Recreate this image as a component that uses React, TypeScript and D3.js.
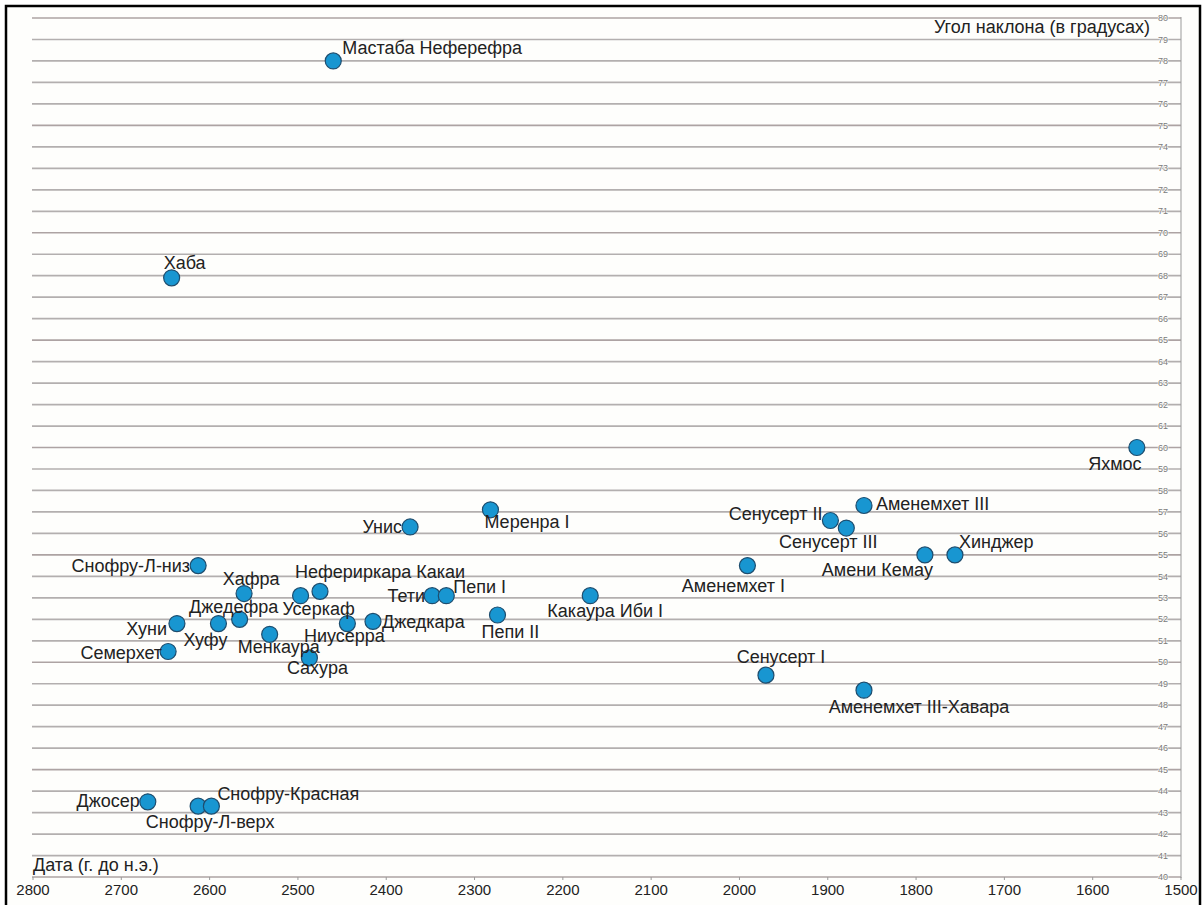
import React from "react";
import * as d3 from "d3";

// Data: pyramid names, dates (years BC) and slope angles (degrees)
const names = [
  "Мастаба Неферефра", "Хаба", "Яхмос", "Меренра I", "Унис", "Аменемхет III",
  "Сенусерт II", "Сенусерт III", "Амени Кемау", "Хинджер", "Аменемхет I",
  "Снофру-Л-низ", "Какаура Иби I", "Хафра", "Нефериркара Какаи", "Усеркаф",
  "Тети", "Пепи I", "Пепи II", "Ниусерра", "Джедкара", "Менкаура", "Сахура",
  "Хуни", "Хуфу", "Джедефра", "Семерхет", "Сенусерт I", "Аменемхет III-Хавара",
  "Джосер", "Снофру-Л-верх", "Снофру-Красная",
];
const years = [
  2460, 2643, 1550, 2282, 2373, 1859,
  1897, 1879, 1790, 1756, 1991,
  2613, 2169, 2561, 2475, 2497,
  2348, 2332, 2274, 2444, 2415, 2532, 2487,
  2637, 2590, 2566, 2647, 1970, 1859,
  2670, 2613, 2598,
];
const angles = [
  78.0, 67.9, 60.0, 57.1, 56.3, 57.3,
  56.6, 56.25, 55.0, 55.0, 54.5,
  54.5, 53.1, 53.2, 53.3, 53.1,
  53.1, 53.1, 52.2, 51.8, 51.9, 51.3, 50.2,
  51.8, 51.8, 52.0, 50.5, 49.4, 48.7,
  43.5, 43.3, 43.3,
];
const xTicks = [2800, 2700, 2600, 2500, 2400, 2300, 2200, 2100, 2000, 1900, 1800, 1700, 1600, 1500];
const yTickValues = d3.range(40, 81, 1);
const yTitle = "Угол наклона (в градусах)";
const xTitle = "Дата (г. до н.э.)";

// Label placement (presentation only): [dx, dy, anchor]
const labelPlacement: Record<string, [number, number, string]> = {
  "Мастаба Неферефра": [9, -13, "start"],
  "Хаба": [-8, -15, "start"],
  "Яхмос": [-22, 16, "middle"],
  "Меренра I": [-6, 12, "start"],
  "Унис": [-8, 0, "end"],
  "Аменемхет III": [12, -2, "start"],
  "Сенусерт II": [-8, -7, "end"],
  "Сенусерт III": [-18, 14, "middle"],
  "Амени Кемау": [8, 15, "end"],
  "Хинджер": [4, -13, "start"],
  "Аменемхет I": [-14, 20, "middle"],
  "Снофру-Л-низ": [-8, 0, "end"],
  "Какаура Иби I": [15, 15, "middle"],
  "Хафра": [7, -15, "middle"],
  "Нефериркара Какаи": [-25, -20, "start"],
  "Усеркаф": [18, 13, "middle"],
  "Тети": [-7, 0, "end"],
  "Пепи I": [7, -9, "start"],
  "Пепи II": [13, 17, "middle"],
  "Ниусерра": [-3, 12, "middle"],
  "Джедкара": [9, 0, "start"],
  "Менкаура": [9, 12, "middle"],
  "Сахура": [8, 10, "middle"],
  "Хуни": [-10, 5, "end"],
  "Хуфу": [-13, 16, "middle"],
  "Джедефра": [-6, -13, "middle"],
  "Семерхет": [-6, 1, "end"],
  "Сенусерт I": [15, -18, "middle"],
  "Аменемхет III-Хавара": [55, 17, "middle"],
  "Джосер": [-8, -1, "end"],
  "Снофру-Л-верх": [12, 16, "middle"],
  "Снофру-Красная": [6, -12, "start"],
};

export default function App() {
  const W = 1204, H = 905;
  const left = 33, right = 1181, top = 18, bottom = 877;
  const x = d3.scaleLinear().domain([2800, 1500]).range([left, right]);
  const y = d3.scaleLinear().domain([40, 80]).range([bottom, top]);
  const font = "'Liberation Sans', Arial, sans-serif";
  const axisX = x(1500);
  const labelSize = 18;

  return (
    <svg width={W} height={H} style={{ position: "absolute", left: 0, top: 0, display: "block", background: "#fff" }}>
      <rect x={6} y={6} width={1194} height={910} fill="#fefefc" stroke="#000" strokeWidth={2.5} />
      {/* gridlines */}
      {yTickValues.map((v) => (
        <line key={"g" + v} x1={left - 1} x2={axisX} y1={y(v)} y2={y(v)}
          stroke={v % 5 === 0 ? "#ada3a3" : "#b3afaf"} strokeWidth={1.7} />
      ))}
      {/* right axis */}
      <line x1={axisX} x2={axisX} y1={y(80) - 1} y2={y(40) + 1} stroke="#9a9a9a" strokeWidth={1} />
      {yTickValues.map((v) => (
        <text key={"yt" + v} x={axisX - 18} y={y(v)} dy="0.35em" textAnchor="middle"
          fontFamily={font} fontSize={9} fill="#7a7a7a" style={{ paintOrder: "stroke" }}
          stroke="#fefefc" strokeWidth={1.2}>{v}</text>
      ))}
      {/* bottom ticks */}
      {xTicks.map((t) => (
        <g key={"xt" + t}>
          <line x1={x(t)} x2={x(t)} y1={bottom} y2={bottom + 3} stroke="#999" strokeWidth={1} />
          <text x={x(t)} y={bottom + 13} dy="0.35em" textAnchor="middle" fontFamily={font} fontSize={15} fill="#222">{t}</text>
        </g>
      ))}
      {/* titles */}
      <text x={1150} y={27} dy="0.35em" textAnchor="end" fontFamily={font} fontSize={labelSize} fill="#222">{yTitle}</text>
      <text x={33} y={865} dy="0.35em" textAnchor="start" fontFamily={font} fontSize={labelSize} fill="#222">{xTitle}</text>
      {/* points */}
      {names.map((n, i) => (
        <circle key={"p" + i} cx={x(years[i])} cy={y(angles[i])} r={8}
          fill="#1896d1" stroke="#1e4d6e" strokeWidth={1.2} />
      ))}
      {/* labels */}
      {names.map((n, i) => {
        const [dx, dy, anchor] = labelPlacement[n] || [10, 0, "start"];
        return (
          <text key={"l" + i} x={x(years[i]) + dx} y={y(angles[i]) + dy} dy="0.35em"
            textAnchor={anchor as any} fontFamily={font} fontSize={labelSize} fill="#222">{n}</text>
        );
      })}
    </svg>
  );
}
